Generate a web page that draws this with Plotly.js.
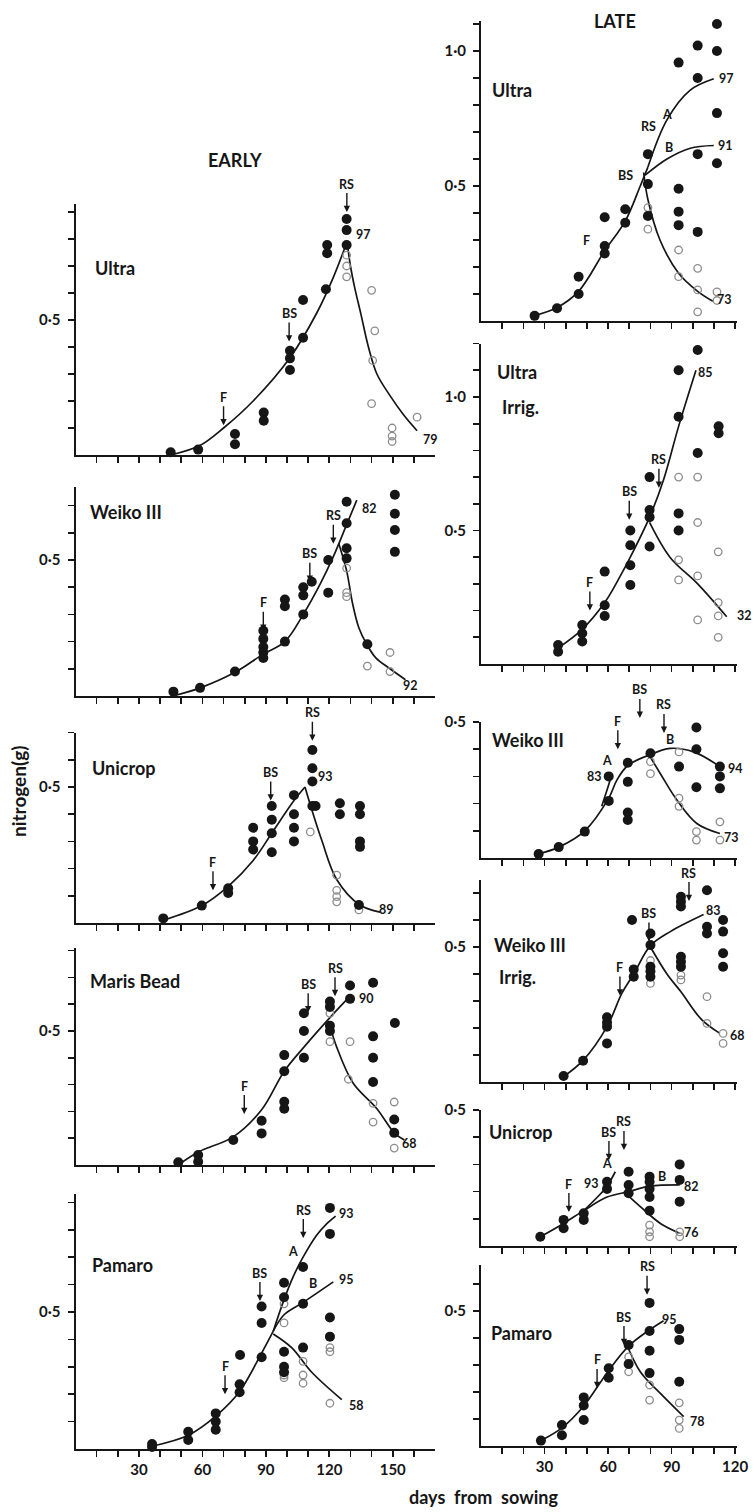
<!DOCTYPE html>
<html><head><meta charset="utf-8">
<script src="https://cdn.plot.ly/plotly-3.0.1.min.js"></script>
<style>html,body{margin:0;padding:0;background:#fff}#chart{width:754px;height:1512px}</style>
</head><body><div id="chart"></div>
<script>
// ================= DATA =================
// x = days from sowing, y = nitrogen (g)
const xLabelVals = [30, 60, 90, 120, 150];
const xLabelText = ['30', '60', '90', '120', '150'];
const yLabelVals = [0.5, 1.0];
const yLabelText = ['0·5', '1·0'];
const panelNames = ['Ultra', 'Weiko III', 'Unicrop', 'Maris Bead', 'Pamaro', 'Ultra', 'Ultra', 'Weiko III', 'Weiko III', 'Unicrop', 'Pamaro'];
const irrigText = 'Irrig.';

// ---- EARLY Ultra ----
const eUltraFX = [45, 58, 75.4, 75.4, 89, 89, 101.4, 101.4, 101.4, 107.6, 107.6, 118.4, 119, 119, 128.2, 128.2, 128.2];
const eUltraFY = [0.01, 0.02, 0.078, 0.04, 0.157, 0.127, 0.386, 0.358, 0.315, 0.574, 0.434, 0.614, 0.778, 0.747, 0.874, 0.833, 0.778];
const eUltraOX = [128.2, 128.2, 128.2, 140, 141.5, 140.5, 140, 149.7, 149.7, 149.7, 161.5];
const eUltraOY = [0.74, 0.70, 0.66, 0.61, 0.46, 0.35, 0.19, 0.10, 0.07, 0.05, 0.14];
const eUltraRiseX = [45, 58.8, 70, 84, 101.4, 114, 122, 128.4];
const eUltraRiseY = [0.0, 0.035, 0.10, 0.20, 0.36, 0.525, 0.66, 0.79];
const eUltraDeclX = [128.4, 130, 132, 135, 138.5, 142.5, 148.7, 155, 161.5];
const eUltraDeclY = [0.79, 0.70, 0.62, 0.52, 0.40, 0.30, 0.22, 0.15, 0.09];
const eUltraLT = ['97', '79'];
const eUltraLX = [136, 168];
const eUltraLY = [0.815, 0.056];
const eUltraAT = ['F', 'BS', 'RS'];
const eUltraAX = [70, 101, 128.3];
const eUltraAY = [0.11, 0.42, 0.90];

// ---- EARLY Weiko III ----
const eWeikoFX = [46.3, 58.9, 75.4, 88.8, 88.8, 88.8, 88.8, 88.8, 99, 99, 99, 107.7, 107.7, 107.7, 111.7, 119.5, 119.5, 128.2, 128.2, 128.2, 128.2, 138, 151, 151, 151, 151];
const eWeikoFY = [0.016, 0.03, 0.09, 0.24, 0.21, 0.18, 0.16, 0.14, 0.355, 0.33, 0.20, 0.40, 0.37, 0.30, 0.42, 0.38, 0.50, 0.714, 0.635, 0.543, 0.506, 0.19, 0.74, 0.67, 0.61, 0.53];
const eWeikoOX = [128.2, 128.2, 128.2, 138, 148.7, 148.7];
const eWeikoOY = [0.47, 0.38, 0.365, 0.11, 0.16, 0.09];
const eWeikoRiseX = [46, 59, 75.4, 88.8, 99, 107.7, 115.6, 122, 128.2, 133];
const eWeikoRiseY = [0.0, 0.03, 0.087, 0.154, 0.20, 0.30, 0.41, 0.514, 0.63, 0.72];
const eWeikoDeclX = [124.5, 128.2, 131, 134, 137.7, 142, 148.7, 156];
const eWeikoDeclY = [0.56, 0.46, 0.34, 0.25, 0.19, 0.14, 0.10, 0.06];
const eWeikoLT = ['82', '92'];
const eWeikoLX = [139, 158.2];
const eWeikoLY = [0.69, 0.04];
const eWeikoAT = ['F', 'BS', 'RS'];
const eWeikoAX = [88.8, 110.8, 121.9];
const eWeikoAY = [0.24, 0.42, 0.56];

// ---- EARLY Unicrop ----
const eUniFX = [41.5, 59.7, 72.2, 72.2, 84, 84, 84, 92.8, 92.8, 92.8, 92.8, 103.3, 103.3, 103.3, 103.3, 112, 112, 112, 112, 113.5, 125, 125, 134.5, 134.5, 134.5, 134.5, 134];
const eUniFY = [0.017, 0.064, 0.128, 0.11, 0.35, 0.30, 0.27, 0.43, 0.38, 0.33, 0.26, 0.47, 0.40, 0.35, 0.30, 0.636, 0.569, 0.52, 0.43, 0.43, 0.44, 0.40, 0.43, 0.40, 0.30, 0.28, 0.066];
const eUniOX = [111, 123.5, 123.5, 123.5, 123.5, 134];
const eUniOY = [0.335, 0.176, 0.12, 0.097, 0.078, 0.048];
const eUniRiseX = [41.5, 59.7, 72.2, 84, 92.8, 103.3, 108.5];
const eUniRiseY = [0.01, 0.064, 0.135, 0.23, 0.33, 0.45, 0.50];
const eUniDeclX = [108.5, 111.6, 116.4, 123.5, 134.5, 144];
const eUniDeclY = [0.50, 0.42, 0.305, 0.16, 0.066, 0.04];
const eUniLT = ['93', '89'];
const eUniLX = [118, 147];
const eUniLY = [0.54, 0.048];
const eUniAT = ['F', 'BS', 'RS'];
const eUniAX = [65, 92.3, 112];
const eUniAY = [0.12, 0.45, 0.67];

// ---- EARLY Maris Bead ----
const eMarisFX = [48.6, 58, 58, 74.6, 88, 88, 98.7, 98.7, 98.7, 98.7, 108, 108, 108, 120.3, 120.3, 120.3, 120.3, 129.8, 129.8, 140.7, 140.7, 140.7, 140.7, 151, 150.7, 150.7];
const eMarisFY = [0.01, 0.037, 0.012, 0.093, 0.165, 0.118, 0.41, 0.35, 0.236, 0.21, 0.40, 0.50, 0.566, 0.61, 0.59, 0.52, 0.50, 0.67, 0.62, 0.68, 0.48, 0.40, 0.31, 0.53, 0.17, 0.12];
const eMarisOX = [120.3, 120.3, 129.8, 129, 140.7, 140.7, 150.7, 150.7];
const eMarisOY = [0.566, 0.46, 0.46, 0.32, 0.23, 0.16, 0.235, 0.063];
const eMarisRiseX = [48.6, 58.5, 74.6, 88, 98.7, 108, 120.3, 129.8];
const eMarisRiseY = [0.0, 0.05, 0.105, 0.206, 0.35, 0.44, 0.55, 0.63];
const eMarisDeclX = [120.3, 123.5, 131.3, 142.5, 150.7, 155.5];
const eMarisDeclY = [0.52, 0.44, 0.305, 0.21, 0.12, 0.093];
const eMarisLT = ['90', '68'];
const eMarisLX = [137.8, 158];
const eMarisLY = [0.62, 0.08];
const eMarisAT = ['F', 'BS', 'RS'];
const eMarisAX = [79.8, 110, 122.7];
const eMarisAY = [0.19, 0.57, 0.63];

// ---- EARLY Pamaro ----
const ePamFX = [36.2, 36.2, 53.3, 53.3, 66.3, 66.3, 66.3, 77.8, 77.6, 77.6, 88, 88, 88, 98.6, 98.6, 98.6, 98.6, 98.6, 107.6, 107.6, 107.6, 120.3, 120.3, 120.3, 120.3];
const ePamFY = [0.018, 0.007, 0.063, 0.033, 0.13, 0.10, 0.07, 0.343, 0.236, 0.207, 0.52, 0.46, 0.335, 0.607, 0.554, 0.355, 0.30, 0.28, 0.664, 0.53, 0.37, 0.88, 0.785, 0.48, 0.41];
const ePamOX = [98.6, 98.6, 98.6, 98.6, 107.6, 107.6, 107.6, 120.3, 120.3, 120.3];
const ePamOY = [0.53, 0.46, 0.27, 0.26, 0.32, 0.27, 0.24, 0.37, 0.355, 0.167];
const ePamRiseX = [36.2, 53.3, 66.3, 77.6, 88, 93.5];
const ePamRiseY = [0.01, 0.05, 0.12, 0.21, 0.35, 0.43];
const ePamAX = [93.5, 98.6, 103, 107.6, 114, 118.5, 123];
const ePamAY = [0.43, 0.545, 0.63, 0.70, 0.78, 0.82, 0.85];
const ePamBX = [93.5, 98.6, 107.6, 121.9];
const ePamBY = [0.43, 0.49, 0.535, 0.61];
const ePamCX = [93.5, 102.2, 111.7, 125.9];
const ePamCY = [0.42, 0.37, 0.28, 0.18];
const ePamLT = ['93', '95', '58', 'A', 'B'];
const ePamLX = [128, 128, 133, 103, 112.5];
const ePamLY = [0.86, 0.62, 0.16, 0.72, 0.605];
const ePamAT = ['F', 'BS', 'RS'];
const ePamArX = [70.7, 87.2, 107.7];
const ePamArY = [0.20, 0.54, 0.77];

// ---- LATE Ultra ----
const lUltraFX = [25.3, 35.9, 46.1, 46.1, 58.4, 58.4, 58.4, 68.1, 68.1, 78.8, 78.8, 78.8, 93.3, 93.3, 93.3, 93.3, 102.3, 102.3, 102.3, 102.3, 111.4, 111.4, 111.4, 111.4];
const lUltraFY = [0.019, 0.047, 0.164, 0.10, 0.384, 0.278, 0.25, 0.414, 0.364, 0.618, 0.507, 0.389, 0.957, 0.49, 0.405, 0.355, 1.02, 0.90, 0.618, 0.33, 1.10, 1.0, 0.77, 0.584];
const lUltraOX = [78.8, 78.8, 93.3, 93.3, 102.3, 102.3, 102.3, 111.4, 111.4];
const lUltraOY = [0.42, 0.34, 0.263, 0.164, 0.195, 0.115, 0.034, 0.108, 0.076];
const lUltraRiseX = [25.3, 35.9, 46.1, 58.4, 68.1, 75.2, 78.8];
const lUltraRiseY = [0.02, 0.05, 0.11, 0.26, 0.37, 0.50, 0.57];
const lUltraAX = [78.8, 87.8, 98.8, 109.9];
const lUltraAY = [0.57, 0.745, 0.855, 0.897];
const lUltraBX = [77.5, 87.8, 98.8, 109.9];
const lUltraBY = [0.54, 0.60, 0.64, 0.65];
const lUltraCX = [76.8, 78.8, 84.5, 93.3, 102.3, 109.5];
const lUltraCY = [0.55, 0.45, 0.30, 0.177, 0.11, 0.073];
const lUltraLT = ['97', '91', '73', 'A', 'B', 'F', 'BS', 'RS'];
const lUltraLX = [116, 115.5, 115.2, 87.8, 88.8, 50, 68, 79.3];
const lUltraLY = [0.90, 0.65, 0.078, 0.763, 0.644, 0.30, 0.54, 0.72];

// ---- LATE Ultra Irrig. ----
const lUltraIFX = [36.4, 36.4, 47.8, 47.8, 47.8, 58.4, 58.4, 58.4, 70.5, 70.5, 70.5, 70.5, 79.6, 79.6, 79.6, 79.6, 93.3, 93.3, 93.3, 93.3, 102.3, 102.3, 112.2, 112.2];
const lUltraIFY = [0.071, 0.046, 0.146, 0.115, 0.084, 0.346, 0.22, 0.18, 0.50, 0.445, 0.37, 0.296, 0.70, 0.577, 0.55, 0.44, 1.10, 0.926, 0.564, 0.50, 1.176, 0.79, 0.89, 0.864];
const lUltraIOX = [93.3, 93.3, 93.3, 102.3, 102.3, 102.3, 102.3, 112, 112, 112, 112];
const lUltraIOY = [0.70, 0.39, 0.315, 0.70, 0.53, 0.33, 0.165, 0.42, 0.23, 0.18, 0.10];
const lUltraIRiseX = [36.4, 47.8, 58.4, 65.8, 70.5, 79.6, 86.2, 93.3, 101.5];
const lUltraIRiseY = [0.06, 0.13, 0.23, 0.33, 0.40, 0.55, 0.69, 0.89, 1.10];
const lUltraIDeclX = [79.6, 89.2, 102.3, 116];
const lUltraIDeclY = [0.53, 0.40, 0.30, 0.177];
const lUltraILT = ['85', '32'];
const lUltraILX = [105.8, 124.6];
const lUltraILY = [1.09, 0.18];
const lUltraIAT = ['F', 'BS', 'RS'];
const lUltraIAX = [51.4, 70, 84];
const lUltraIAY = [0.20, 0.54, 0.66];

// ---- LATE Weiko III ----
const lWeikoFX = [27.2, 36.7, 49, 60.3, 60.3, 69.3, 69.3, 69.3, 69.3, 80, 93.5, 93.5, 101.7, 101.7, 101.7, 112.8, 112.8, 112.8, 112.8];
const lWeikoFY = [0.015, 0.04, 0.097, 0.30, 0.21, 0.35, 0.28, 0.167, 0.14, 0.385, 0.53, 0.336, 0.48, 0.40, 0.26, 0.62, 0.336, 0.30, 0.256];
const lWeikoOX = [80, 80, 93.5, 93.5, 93.5, 101.7, 101.7, 112.8, 112.8];
const lWeikoOY = [0.354, 0.31, 0.39, 0.22, 0.19, 0.097, 0.066, 0.133, 0.066];
const lWeikoRiseX = [27.2, 36.7, 49, 60.3, 64.2, 69.3, 80];
const lWeikoRiseY = [0.015, 0.04, 0.10, 0.22, 0.287, 0.34, 0.38];
const lWeikoAX = [57, 59.5, 61.5];
const lWeikoAY = [0.19, 0.25, 0.30];
const lWeikoBX = [80, 89.4, 100.4, 112.8];
const lWeikoBY = [0.38, 0.403, 0.39, 0.336];
const lWeikoCX = [80, 84.7, 92.5, 101.9, 112.8];
const lWeikoCY = [0.37, 0.31, 0.213, 0.127, 0.09];
const lWeikoLT = ['94', '73', 'A', '83', 'B'];
const lWeikoLX = [120, 118.5, 59.5, 53.4, 89.2];
const lWeikoLY = [0.33, 0.074, 0.357, 0.30, 0.434];
const lWeikoAT = ['F', 'BS', 'RS'];
const lWeikoArX = [64.6, 75, 86.4];
const lWeikoArY = [0.40, 0.515, 0.46];

// ---- LATE Weiko III Irrig. ----
const lWeikoIFX = [39, 48.2, 59.5, 59.5, 59.5, 59.5, 72.1, 72.1, 71.3, 80, 80, 80, 80, 80, 94.4, 94.4, 94.4, 94.4, 94.4, 94.4, 106.7, 106.7, 106.7, 114.3, 114.3, 114.3, 114.3];
const lWeikoIFY = [0.022, 0.079, 0.24, 0.22, 0.205, 0.143, 0.417, 0.39, 0.60, 0.55, 0.507, 0.427, 0.41, 0.39, 0.686, 0.668, 0.65, 0.464, 0.445, 0.427, 0.71, 0.575, 0.55, 0.60, 0.557, 0.477, 0.427];
const lWeikoIOX = [80, 80, 94.4, 94.4, 106.7, 106.7, 114.3, 114.3];
const lWeikoIOY = [0.45, 0.365, 0.396, 0.378, 0.316, 0.217, 0.18, 0.143];
const lWeikoIRiseX = [39, 48.2, 59.5, 66.6, 72.1, 80, 89.4, 105.1];
const lWeikoIRiseY = [0.02, 0.08, 0.205, 0.33, 0.40, 0.505, 0.557, 0.62];
const lWeikoIDeclX = [80, 87.8, 94.4, 104.3, 112.8];
const lWeikoIDeclY = [0.50, 0.40, 0.334, 0.23, 0.18];
const lWeikoILT = ['83', '68'];
const lWeikoILX = [110, 120.9];
const lWeikoILY = [0.637, 0.174];
const lWeikoIAT = ['F', 'BS', 'RS'];
const lWeikoIAX = [65.6, 79.3, 98.2];
const lWeikoIAY = [0.32, 0.52, 0.67];

// ---- LATE Unicrop ----
const lUniFX = [28, 39, 39, 48.5, 48.5, 59.5, 59.5, 69.7, 69.7, 69.7, 79.6, 79.6, 79.6, 79.6, 79.6, 93.8, 93.8, 93.8];
const lUniFY = [0.034, 0.096, 0.065, 0.12, 0.096, 0.236, 0.21, 0.273, 0.224, 0.194, 0.255, 0.236, 0.21, 0.18, 0.13, 0.30, 0.243, 0.163];
const lUniOX = [69.7, 79.6, 79.6, 79.6, 93.8, 93.8];
const lUniOY = [0.20, 0.077, 0.052, 0.034, 0.052, 0.034];
const lUniRiseX = [28, 39, 48.5, 59.5, 69.7, 79.6, 93.8];
const lUniRiseY = [0.034, 0.083, 0.13, 0.18, 0.20, 0.22, 0.225];
const lUniAX = [48.5, 55, 59.5, 63.4];
const lUniAY = [0.13, 0.18, 0.22, 0.273];
const lUniCX = [67.4, 75.2, 84.7, 93.8];
const lUniCY = [0.20, 0.145, 0.083, 0.047];
const lUniLT = ['82', '76', 'B', 'A', '93'];
const lUniLX = [99.6, 99.6, 85.5, 59.5, 52.4];
const lUniLY = [0.217, 0.048, 0.254, 0.305, 0.23];
const lUniAT = ['F', 'BS', 'RS'];
const lUniArX = [41.5, 60.4, 67.5];
const lUniArY = [0.125, 0.316, 0.353];

// ---- LATE Pamaro ----
const lPamFX = [28.3, 38.2, 38.2, 48.5, 48.5, 48.5, 60.3, 60.3, 69.7, 69.7, 79.6, 79.6, 79.6, 79.6, 93.6, 93.6, 93.6];
const lPamFY = [0.02, 0.078, 0.04, 0.18, 0.15, 0.096, 0.288, 0.253, 0.374, 0.304, 0.53, 0.426, 0.353, 0.27, 0.433, 0.393, 0.238];
const lPamOX = [69.7, 69.7, 79.6, 79.6, 93.6, 93.6, 93.6];
const lPamOY = [0.33, 0.275, 0.226, 0.17, 0.16, 0.096, 0.065];
const lPamRiseX = [28.3, 38.2, 48.5, 60.3, 69.7, 79.6, 86.2];
const lPamRiseY = [0.02, 0.067, 0.148, 0.28, 0.37, 0.43, 0.464];
const lPamCX = [68.1, 75.2, 84.7, 95.7];
const lPamCY = [0.39, 0.275, 0.195, 0.109];
const lPamLT = ['95', '78'];
const lPamLX = [89.2, 102];
const lPamLY = [0.467, 0.089];
const lPamAT = ['F', 'BS', 'RS'];
const lPamArX = [54.8, 67.5, 78.4];
const lPamArY = [0.215, 0.374, 0.56];

// ================= LAYOUT / DRAWING =================
const FONT = 'Lato, "Open Sans", "DejaVu Sans", sans-serif';
const INK = '#161616';
const OPEN = '#8c8c8c';
const W = 754, H = 1512;

// geometry (pixels) of each panel: col, zero line, px per unit, top value
const geo = [
  {col:0, zero:455, k:270, top:0.93, name:[93,268]},
  {col:0, zero:696, k:272, top:0.77, name:[88,512]},
  {col:0, zero:923, k:272, top:0.70, name:[90,768]},
  {col:0, zero:1165, k:268, top:0.81, name:[88,981]},
  {col:0, zero:1449, k:274, top:0.93, name:[90,1265]},
  {col:1, zero:321, k:270, top:1.11, name:[490,90]},
  {col:1, zero:664, k:267, top:1.2, name:[495,372], irrig:[500,407]},
  {col:1, zero:858, k:272, top:0.5, name:[490,740]},
  {col:1, zero:1082, k:270, top:0.75, name:[492,945], irrig:[497,977]},
  {col:1, zero:1246, k:272, top:0.5, name:[487,1132]},
  {col:1, zero:1446, k:270, top:0.67, name:[489,1333]}
];
const cols = [
  {left:75.5, per:2.115, max:170, tickMax:160},
  {left:481, per:2.118, max:121, tickMax:120}
];

const series = [
  {f:[eUltraFX,eUltraFY], o:[eUltraOX,eUltraOY], c:[[eUltraRiseX,eUltraRiseY],[eUltraDeclX,eUltraDeclY]], l:[eUltraLT,eUltraLX,eUltraLY], a:[eUltraAT,eUltraAX,eUltraAY]},
  {f:[eWeikoFX,eWeikoFY], o:[eWeikoOX,eWeikoOY], c:[[eWeikoRiseX,eWeikoRiseY],[eWeikoDeclX,eWeikoDeclY]], l:[eWeikoLT,eWeikoLX,eWeikoLY], a:[eWeikoAT,eWeikoAX,eWeikoAY]},
  {f:[eUniFX,eUniFY], o:[eUniOX,eUniOY], c:[[eUniRiseX,eUniRiseY],[eUniDeclX,eUniDeclY]], l:[eUniLT,eUniLX,eUniLY], a:[eUniAT,eUniAX,eUniAY]},
  {f:[eMarisFX,eMarisFY], o:[eMarisOX,eMarisOY], c:[[eMarisRiseX,eMarisRiseY],[eMarisDeclX,eMarisDeclY]], l:[eMarisLT,eMarisLX,eMarisLY], a:[eMarisAT,eMarisAX,eMarisAY]},
  {f:[ePamFX,ePamFY], o:[ePamOX,ePamOY], c:[[ePamRiseX,ePamRiseY],[ePamAX,ePamAY],[ePamBX,ePamBY],[ePamCX,ePamCY]], l:[ePamLT,ePamLX,ePamLY], a:[ePamAT,ePamArX,ePamArY]},
  {f:[lUltraFX,lUltraFY], o:[lUltraOX,lUltraOY], c:[[lUltraRiseX,lUltraRiseY],[lUltraAX,lUltraAY],[lUltraBX,lUltraBY],[lUltraCX,lUltraCY]], l:[lUltraLT,lUltraLX,lUltraLY], a:null},
  {f:[lUltraIFX,lUltraIFY], o:[lUltraIOX,lUltraIOY], c:[[lUltraIRiseX,lUltraIRiseY],[lUltraIDeclX,lUltraIDeclY]], l:[lUltraILT,lUltraILX,lUltraILY], a:[lUltraIAT,lUltraIAX,lUltraIAY]},
  {f:[lWeikoFX,lWeikoFY], o:[lWeikoOX,lWeikoOY], c:[[lWeikoRiseX,lWeikoRiseY],[lWeikoAX,lWeikoAY],[lWeikoBX,lWeikoBY],[lWeikoCX,lWeikoCY]], l:[lWeikoLT,lWeikoLX,lWeikoLY], a:[lWeikoAT,lWeikoArX,lWeikoArY]},
  {f:[lWeikoIFX,lWeikoIFY], o:[lWeikoIOX,lWeikoIOY], c:[[lWeikoIRiseX,lWeikoIRiseY],[lWeikoIDeclX,lWeikoIDeclY]], l:[lWeikoILT,lWeikoILX,lWeikoILY], a:[lWeikoIAT,lWeikoIAX,lWeikoIAY]},
  {f:[lUniFX,lUniFY], o:[lUniOX,lUniOY], c:[[lUniRiseX,lUniRiseY],[lUniAX,lUniAY],[lUniCX,lUniCY]], l:[lUniLT,lUniLX,lUniLY], a:[lUniAT,lUniArX,lUniArY]},
  {f:[lPamFX,lPamFY], o:[lPamOX,lPamOY], c:[[lPamRiseX,lPamRiseY],[lPamCX,lPamCY]], l:[lPamLT,lPamLX,lPamLY], a:[lPamAT,lPamArX,lPamArY]}
];

const traces = [];
const annotations = [];
const layout = {
  width: W, height: H,
  margin: {l:0, r:0, t:0, b:0},
  paper_bgcolor: '#fff', plot_bgcolor: 'rgba(0,0,0,0)',
  showlegend: false,
  font: {family: FONT, color: INK}
};

geo.forEach((g, idx) => {
  const i = idx + 1;
  const xr = i === 1 ? 'x' : 'x' + i;
  const yr = i === 1 ? 'y' : 'y' + i;
  const xk = i === 1 ? 'xaxis' : 'xaxis' + i;
  const yk = i === 1 ? 'yaxis' : 'yaxis' + i;
  const c = cols[g.col];
  const isBottom = (idx === 4 || idx === 10);
  // map data -> paper fraction using this panel's axes (for labels that may sit outside the axis box)
  const px = d => (c.left + d * c.per) / W;
  const py = v => 1 - (g.zero - v * g.k) / H;

  const xt = [];
  for (let d = 10; d <= c.tickMax; d += 10) xt.push(d);
  const xtt = xt.map(d => { const j = xLabelVals.indexOf(d); return (isBottom && j >= 0) ? xLabelText[j] : ''; });
  const yt = [];
  for (let v = 1; v <= Math.round(g.top * 10 + 0.01); v++) yt.push(v / 10);
  const ytt = yt.map(v => { const j = yLabelVals.findIndex(q => Math.abs(q - v) < 1e-6); return j >= 0 ? yLabelText[j] : ''; });

  layout[xk] = {
    domain: [c.left / W, (c.left + c.max * c.per) / W],
    range: [0, c.max], anchor: yr,
    showline: true, linewidth: 2, linecolor: INK,
    ticks: 'outside', ticklen: 6, tickwidth: 1.6, tickcolor: INK,
    tickvals: xt, ticktext: xtt,
    tickfont: {family: FONT, size: 15, color: INK, weight: 700},
    showgrid: false, zeroline: false, fixedrange: true
  };
  const topPx = g.zero - g.top * g.k;
  layout[yk] = {
    domain: [(H - g.zero) / H, (H - topPx) / H],
    range: [0, g.top], anchor: xr,
    showline: true, linewidth: 2, linecolor: INK,
    ticks: 'outside', ticklen: 6, tickwidth: 1.6, tickcolor: INK,
    tickvals: yt, ticktext: ytt, ticklabelstandoff: 4,
    tickfont: {family: FONT, size: 15, color: INK, weight: 700},
    showgrid: false, zeroline: false, fixedrange: true
  };

  const s = series[idx];
  s.c.forEach(cv => traces.push({
    type: 'scatter', mode: 'lines', x: cv[0], y: cv[1], xaxis: xr, yaxis: yr,
    line: {color: INK, width: 1.7, shape: 'spline', smoothing: 1}, hoverinfo: 'skip'
  }));
  traces.push({
    type: 'scatter', mode: 'markers', x: s.o[0], y: s.o[1], xaxis: xr, yaxis: yr, cliponaxis: false,
    marker: {symbol: 'circle-open', size: 7.5, color: OPEN, line: {width: 1.3, color: OPEN}}, hoverinfo: 'skip'
  });
  traces.push({
    type: 'scatter', mode: 'markers', x: s.f[0], y: s.f[1], xaxis: xr, yaxis: yr, cliponaxis: false,
    marker: {symbol: 'circle', size: 10, color: INK}, hoverinfo: 'skip'
  });

  s.l[0].forEach((t, j) => annotations.push({
    xref: 'paper', yref: 'paper', x: px(s.l[1][j]), y: py(s.l[2][j]), text: t, showarrow: false,
    font: {family: FONT, size: 12.5, color: INK, weight: 700}, xanchor: 'center', yanchor: 'middle'
  }));
  if (s.a) s.a[0].forEach((t, j) => annotations.push({
    xref: 'paper', yref: 'paper', x: px(s.a[1][j]), y: py(s.a[2][j]), text: t, showarrow: true,
    ax: 0, ay: -28, arrowhead: 2, arrowsize: 0.9, arrowwidth: 1.4, arrowcolor: INK, standoff: 0,
    font: {family: FONT, size: 12.5, color: INK, weight: 700}
  }));

  annotations.push({
    xref: 'paper', yref: 'paper', x: g.name[0] / W, y: 1 - g.name[1] / H,
    text: panelNames[idx], showarrow: false, xanchor: 'left', yanchor: 'middle',
    font: {family: FONT, size: 18, color: INK, weight: 700}
  });
  if (g.irrig) annotations.push({
    xref: 'paper', yref: 'paper', x: g.irrig[0] / W, y: 1 - g.irrig[1] / H,
    text: irrigText, showarrow: false, xanchor: 'left', yanchor: 'middle',
    font: {family: FONT, size: 18, color: INK, weight: 700}
  });
});

// column headers & axis titles
annotations.push({xref:'paper', yref:'paper', x:235/W, y:1-160/H, text:'EARLY', showarrow:false,
  font:{family:FONT, size:18, color:INK, weight:700}, xanchor:'center', yanchor:'middle'});
annotations.push({xref:'paper', yref:'paper', x:615/W, y:1-21/H, text:'LATE', showarrow:false,
  font:{family:FONT, size:18, color:INK, weight:700}, xanchor:'center', yanchor:'middle'});
annotations.push({xref:'paper', yref:'paper', x:18/W, y:1-792/H, text:'nitrogen(g)', showarrow:false, textangle:-90,
  font:{family:FONT, size:19, color:INK, weight:700}, xanchor:'center', yanchor:'middle'});
annotations.push({xref:'paper', yref:'paper', x:483/W, y:1-1497/H, text:'days  from  sowing', showarrow:false,
  font:{family:FONT, size:18, color:INK, weight:700}, xanchor:'center', yanchor:'middle'});

layout.annotations = annotations;
Plotly.newPlot('chart', traces, layout, {staticPlot: true, displayModeBar: false});
</script></body></html>
